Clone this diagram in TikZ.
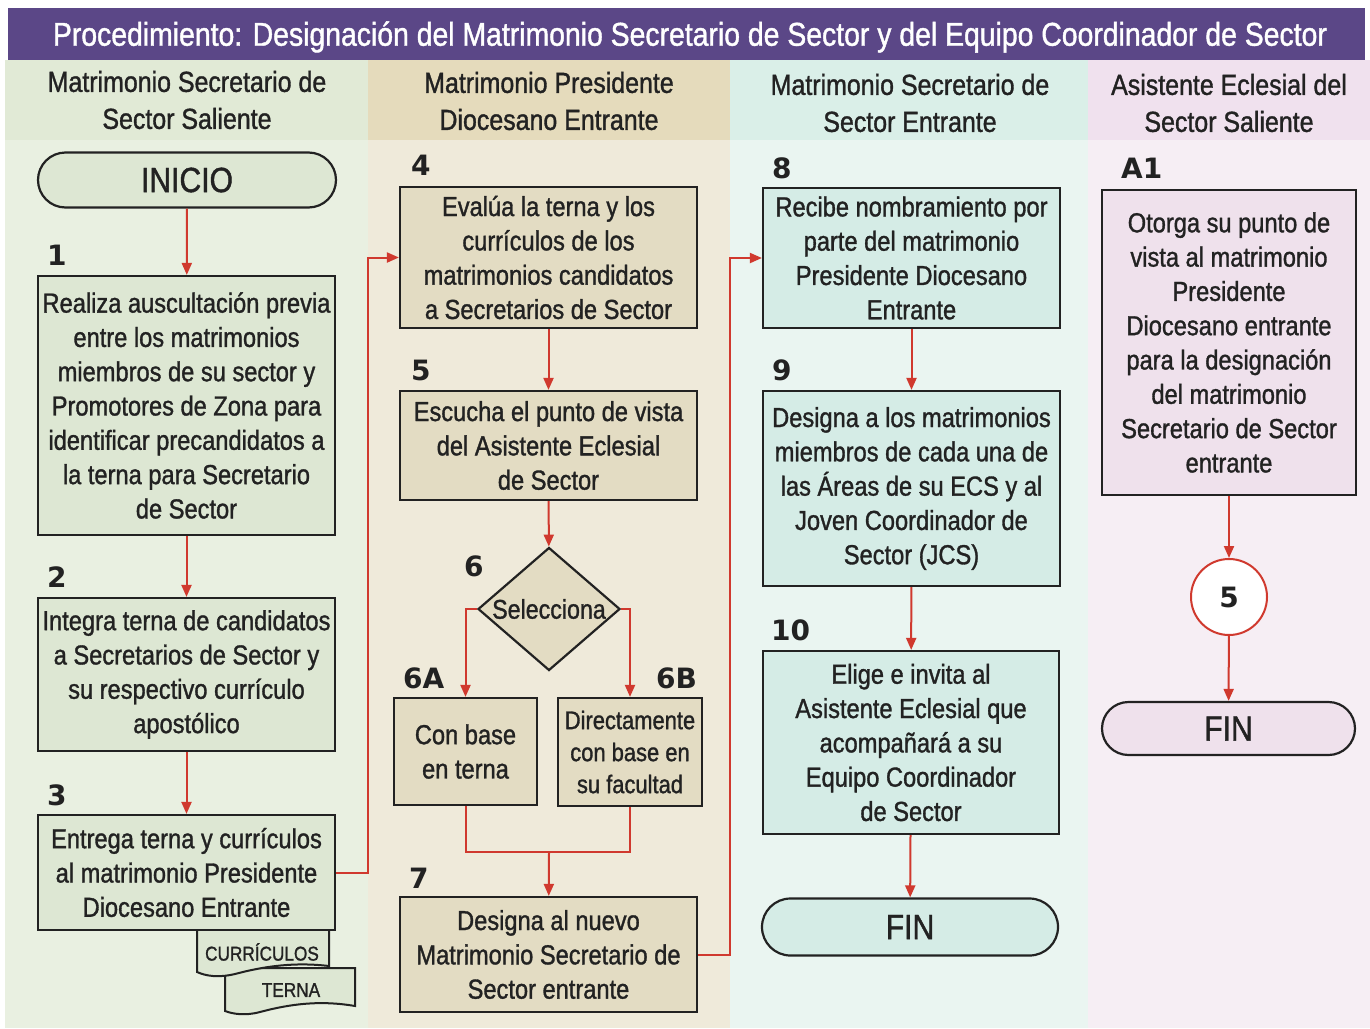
\documentclass[tikz,border=0pt]{standalone}
\usepackage{fontspec}
\setmainfont{Liberation Sans}[FakeStretch=0.86,FakeBold=1.2]
\newfontfamily\numfont{DejaVu Sans}
\usetikzlibrary{arrows.meta,shapes.geometric,shapes.misc}
\definecolor{titlebg}{HTML}{5B4787}
\definecolor{colA}{HTML}{E9F0E1}
\definecolor{colAh}{HTML}{E1EAD6}
\definecolor{colB}{HTML}{EFEADA}
\definecolor{colBh}{HTML}{E5DBBC}
\definecolor{colC}{HTML}{EAF5F1}
\definecolor{colCh}{HTML}{DAEFE8}
\definecolor{colD}{HTML}{F6EEF4}
\definecolor{colDh}{HTML}{F0E1EE}
\definecolor{boxA}{HTML}{DDE7D3}
\definecolor{boxB}{HTML}{E3DCC3}
\definecolor{boxC}{HTML}{D5ECE6}
\definecolor{boxD}{HTML}{EFE1EC}
\definecolor{arrred}{HTML}{D0392E}
\definecolor{ink}{HTML}{222222}
\tikzset{
  stepbox/.style={draw=ink, line width=2.2pt, align=center, inner sep=0pt, text=ink,
    font=\fontsize{27.5}{34.3}\selectfont},
  term/.style={draw=ink, line width=2.2pt, rounded rectangle, minimum width=298pt,
    minimum height=55pt, inner sep=0pt, text=ink, font=\fontsize{35}{37}\selectfont},
  numlbl/.style={anchor=west, inner sep=0pt, text=ink, font=\numfont\bfseries\fontsize{28}{30}\selectfont},
  hdr/.style={align=center, text=ink, font=\fontsize{29}{37}\selectfont},
  arr/.style={draw=arrred, line width=2pt, -{Triangle[length=12pt,width=10pt]}},
  lin/.style={draw=arrred, line width=2pt},
  docshape/.style={draw=ink, line width=2pt, fill=boxA},
}
\begin{document}
\begin{tikzpicture}[x=1pt,y=-1pt]
\useasboundingbox (0,0) rectangle (1370,1028);
\fill[white] (0,0) rectangle (1370,1028);
% columns
\fill[colA] (5,60) rectangle (368,1028);
\fill[colAh] (5,60) rectangle (368,140);
\fill[colB] (368,60) rectangle (730,1028);
\fill[colBh] (368,60) rectangle (730,140);
\fill[colC] (730,60) rectangle (1088,1028);
\fill[colCh] (730,60) rectangle (1088,140);
\fill[colD] (1088,60) rectangle (1370,1028);
\fill[colDh] (1088,60) rectangle (1370,140);
% title
\fill[titlebg] (8,8) rectangle (1365,60);
\node[text=white, font=\fontsize{33}{36}\selectfont] (title) at (690,37)
  {Procedimiento: Designación del Matrimonio Secretario de Sector y del Equipo Coordinador de Sector};
% headers
\node[hdr] (h1) at (187,100) {Matrimonio Secretario de\\Sector Saliente};
\node[hdr] (h2) at (549,101) {Matrimonio Presidente\\Diocesano Entrante};
\node[hdr] (h3) at (910,103) {Matrimonio Secretario de\\Sector Entrante};
\node[hdr] (h4) at (1229,103) {Asistente Eclesial del\\Sector Saliente};

% documents under box 3
\path[docshape] (225,968) -- (355,968) -- (355,1006)
  .. controls (320,1000) and (290,1004) .. (260,1012)
  .. controls (245,1016) and (233,1014) .. (225,1011) -- cycle;
\path[docshape] (197,926) -- (329,926) -- (329,966)
  .. controls (295,962) and (265,966) .. (235,974)
  .. controls (218,978) and (206,976) .. (197,972) -- cycle;
\node[text=ink, font=\fontsize{20}{22}\selectfont] (cur) at (262,952) {CURRÍCULOS};
\node[text=ink, font=\fontsize{20}{22}\selectfont] (ter) at (291,990) {TERNA};

% column 1
\node[term, fill=boxA] (inicio) at (187,180) {INICIO};
\node[stepbox, fill=boxA, minimum width=297pt, minimum height=259pt] (b1) at (186.5,405.5)
  {Realiza auscultación previa\\entre los matrimonios\\miembros de su sector y\\Promotores de Zona para\\identificar precandidatos a\\la terna para Secretario\\de Sector};
\node[stepbox, fill=boxA, minimum width=297pt, minimum height=153pt] (b2) at (186.5,674.5)
  {Integra terna de candidatos\\a Secretarios de Sector y\\su respectivo currículo\\apostólico};
\node[stepbox, fill=boxA, minimum width=297pt, minimum height=115pt] (b3) at (186.5,872.5)
  {Entrega terna y currículos\\al matrimonio Presidente\\Diocesano Entrante};
\node[numlbl] (n1) at (47,255) {1};
\node[numlbl] (n2) at (47,577) {2};
\node[numlbl] (n3) at (47,795) {3};

% column 2
\node[stepbox, fill=boxB, minimum width=297pt, minimum height=141pt] (b4) at (548.5,257.5)
  {Evalúa la terna y los\\currículos de los\\matrimonios candidatos\\a Secretarios de Sector};
\node[stepbox, fill=boxB, minimum width=297pt, minimum height=109pt] (b5) at (548.5,445.5)
  {Escucha el punto de vista\\del Asistente Eclesial\\de Sector};
\node[diamond, draw=ink, line width=2.2pt, fill=boxB, minimum width=142pt, minimum height=123pt, inner sep=0pt] (b6) at (549,609) {};
\node[text=ink, font=\fontsize{27}{30}\selectfont, inner sep=0pt] (b6t) at (b6) {Selecciona};
\node[stepbox, fill=boxB, minimum width=143pt, minimum height=107pt] (b6a) at (465.5,751.5)
  {Con base\\en terna};
\node[stepbox, fill=boxB, minimum width=144pt, minimum height=108pt, font=\fontsize{25.5}{32}\selectfont] (b6b) at (630,752)
  {Directamente\\con base en\\su facultad};
\node[stepbox, fill=boxB, minimum width=297pt, minimum height=115pt] (b7) at (548.5,954.5)
  {Designa al nuevo\\Matrimonio Secretario de\\Sector entrante};
\node[numlbl] (n4) at (411,165) {4};
\node[numlbl] (n5) at (411,370) {5};
\node[numlbl] (n6) at (464,566) {6};
\node[numlbl] (n6a) at (403,678) {6A};
\node[numlbl] (n6b) at (656,678) {6B};
\node[numlbl] (n7) at (409,878) {7};

% column 3
\node[stepbox, fill=boxC, minimum width=297pt, minimum height=140pt] (b8) at (911.5,258)
  {Recibe nombramiento por\\parte del matrimonio\\Presidente Diocesano\\Entrante};
\node[stepbox, fill=boxC, minimum width=297pt, minimum height=195pt] (b9) at (911.5,488.5)
  {Designa a los matrimonios\\miembros de cada una de\\las Áreas de su ECS y al\\Joven Coordinador de\\Sector (JCS)};
\node[stepbox, fill=boxC, minimum width=296pt, minimum height=183pt] (b10) at (911,742.5)
  {Elige e invita al\\Asistente Eclesial que\\acompañará a su\\Equipo Coordinador\\de Sector};
\node[term, fill=boxC, minimum width=296pt, minimum height=57pt] (fin1) at (910,927) {FIN};
\node[numlbl] (n8) at (772,168) {8};
\node[numlbl] (n9) at (772,370) {9};
\node[numlbl] (n10) at (771,630) {10};

% column 4
\node[stepbox, fill=boxD, minimum width=254pt, minimum height=305pt] (ba1) at (1229,342.5)
  {Otorga su punto de\\vista al matrimonio\\Presidente\\Diocesano entrante\\para la designación\\del matrimonio\\Secretario de Sector\\entrante};
\node[circle, draw=arrred, line width=2pt, fill=white, minimum size=76pt, inner sep=0pt,
  text=ink, font=\numfont\bfseries\fontsize{28}{30}\selectfont] (c5) at (1229,597) {5};
\node[term, fill=boxD, minimum width=253pt, minimum height=53pt] (fin2) at (1228.5,728.5) {FIN};
\node[numlbl] (na1) at (1121,168) {A1};

% connectors
\draw[arr] (inicio) -- (b1);
\draw[arr] (b1) -- (b2);
\draw[arr] (b2) -- (b3);
\draw[arr] (b3.east) -- (368,872.5) |- (b4.west);
\draw[arr] (b4) -- (b5);
\draw[arr] (b5) -- (b6);
\draw[arr] (b6.west) -| (b6a.north);
\draw[arr] (b6.east) -| (b6b.north);
\coordinate (jn) at (549,852);
\draw[lin] (b6a.south) |- (jn);
\draw[lin] (b6b.south) |- (jn);
\draw[arr] (jn) -- (b7);
\draw[arr] (b7.east) -- (730,954.5) |- (b8.west);
\draw[arr] (b8) -- (b9);
\draw[arr] (b9) -- (b10);
\draw[arr] (b10) -- (fin1);
\draw[arr] (ba1) -- (c5);
\draw[arr] (c5) -- (fin2);
\end{tikzpicture}
\end{document}
